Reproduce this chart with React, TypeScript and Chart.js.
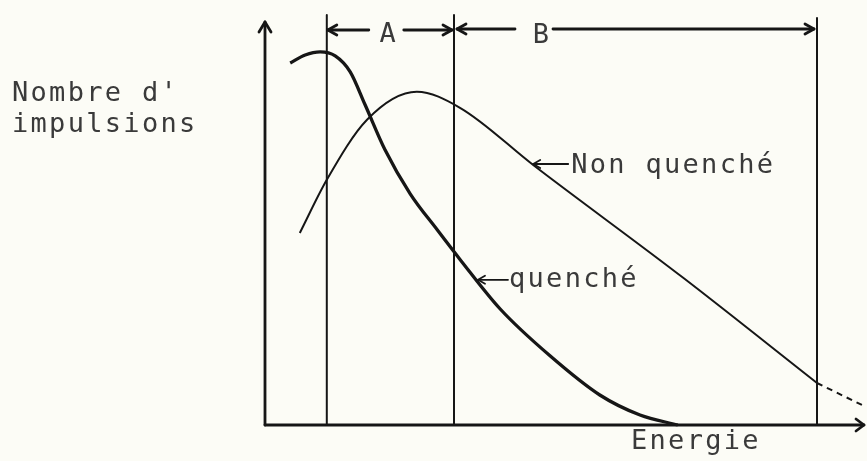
import React, { useEffect, useRef } from "react";
import { Chart, registerables } from "chart.js";

Chart.register(...registerables);

// Energy (x) and pulse count (y), arbitrary units
const quenchedX = [4.2, 6.7, 9.2, 11.7, 14.2, 16.7, 20, 24.2, 28.7, 32.5, 39.2, 47.5, 55.8, 62.5, 68.8];
const quenchedY = [90.5, 92.5, 93.3, 92.3, 88.3, 80, 68.8, 57.8, 48.8, 41.4, 29, 17.3, 7.5, 2.5, 0];

const nonQuenchedX = [5.8, 10.3, 17, 25.3, 32.5, 44.7, 69.7, 92];
const nonQuenchedY = [48, 61.3, 76.3, 83.3, 79.3, 65, 36.8, 10.5];

const extrapX = [92, 99.5];
const extrapY = [10.5, 5];

// Counting windows: A = [b0, b1], B = [b1, b2]
const windowBounds = [10.3, 31.5, 92];
const windowLabels = ["A", "B"];

const yTitle = ["Nombre d'", "impulsions"];
const xTitle = "Energie";
const curveNames = ["Non quenché", "quenché"];
// points on the curves the labels point to
const pointerX = [44.7, 35.5];
const pointerY = [65.5, 36.3];

const INK = "#161616";
const TEXT = "#3a3a3a";
const FONT = "27px 'DejaVu Sans Mono'";

function arrowHead(ctx: CanvasRenderingContext2D, x: number, y: number, dir: number, len = 9, half = 5) {
  ctx.beginPath();
  ctx.moveTo(x - dir * len, y - half);
  ctx.lineTo(x, y);
  ctx.lineTo(x - dir * len, y + half);
  ctx.stroke();
}

function hLine(ctx: CanvasRenderingContext2D, x1: number, x2: number, y: number) {
  ctx.beginPath();
  ctx.moveTo(x1, y);
  ctx.lineTo(x2, y);
  ctx.stroke();
}

function drawText(ctx: CanvasRenderingContext2D, s: string, x: number, y: number, align: CanvasTextAlign = "left") {
  ctx.save();
  ctx.font = FONT;
  (ctx as any).letterSpacing = "2.3px";
  ctx.fillStyle = TEXT;
  ctx.textAlign = align;
  ctx.textBaseline = "alphabetic";
  ctx.fillText(s, x, y);
  ctx.restore();
}

const decor = {
  id: "decor",
  beforeDraw(chart: any) {
    const ctx = chart.ctx as CanvasRenderingContext2D;
    ctx.save();
    ctx.fillStyle = "#fcfcf6";
    ctx.fillRect(0, 0, chart.width, chart.height);
    ctx.restore();
  },
  afterDatasetsDraw(chart: any) {
    const ctx = chart.ctx as CanvasRenderingContext2D;
    const xs = chart.scales.x;
    const ys = chart.scales.y;
    const area = chart.chartArea;
    const x0 = area.left;
    const y0 = ys.getPixelForValue(0);
    ctx.save();
    ctx.strokeStyle = INK;
    ctx.lineCap = "round";
    ctx.lineJoin = "round";

    // axes
    ctx.lineWidth = 2.8;
    ctx.beginPath();
    ctx.moveTo(x0, y0);
    ctx.lineTo(x0, area.top + 7);
    ctx.stroke();
    ctx.beginPath();
    ctx.moveTo(x0 - 6, area.top + 17);
    ctx.lineTo(x0, area.top + 7);
    ctx.lineTo(x0 + 6, area.top + 17);
    ctx.stroke();
    ctx.beginPath();
    ctx.moveTo(x0, y0);
    ctx.lineTo(area.right - 1, y0);
    ctx.stroke();
    arrowHead(ctx, area.right - 1, y0, 1, 8, 6);

    // window boundaries
    ctx.lineWidth = 2;
    const bx = windowBounds.map((b) => xs.getPixelForValue(b));
    bx.forEach((px, i) => {
      ctx.beginPath();
      ctx.moveTo(px, y0);
      ctx.lineTo(px, area.top + (i === 2 ? 3 : 0));
      ctx.stroke();
    });

    // window arrows
    const ay = area.top + 15;
    ctx.lineWidth = 2.8;
    const aLabelX = bx[0] + 60;
    hLine(ctx, bx[0] + 1, aLabelX - 18, ay);
    arrowHead(ctx, bx[0] + 1, ay, -1);
    hLine(ctx, aLabelX + 17, bx[1] - 2, ay);
    arrowHead(ctx, bx[1] - 2, ay, 1);
    drawText(ctx, windowLabels[0], aLabelX + 2, ay + 12, "center");

    const bLabelX = bx[1] + 86;
    hLine(ctx, bx[1] + 3, bLabelX - 25, ay - 1);
    arrowHead(ctx, bx[1] + 3, ay - 1, -1);
    hLine(ctx, bLabelX + 13, bx[2] - 3, ay - 1);
    arrowHead(ctx, bx[2] - 3, ay - 1, 1);
    drawText(ctx, windowLabels[1], bLabelX + 2, ay + 13, "center");

    // curve labels with pointer arrows
    ctx.lineWidth = 1.8;
    const px0 = xs.getPixelForValue(pointerX[0]);
    const py0 = ys.getPixelForValue(pointerY[0]);
    hLine(ctx, px0, px0 + 35, py0 + 1);
    arrowHead(ctx, px0, py0 + 1, -1, 7, 4);
    drawText(ctx, curveNames[0], px0 + 38, py0 + 10);

    const px1 = xs.getPixelForValue(pointerX[1]);
    const py1 = ys.getPixelForValue(pointerY[1]);
    hLine(ctx, px1, px1 + 30, py1);
    arrowHead(ctx, px1, py1, -1, 7, 4);
    drawText(ctx, curveNames[1], px1 + 31, py1 + 7);

    // axis titles
    drawText(ctx, yTitle[0], 12, 101);
    drawText(ctx, yTitle[1], 12, 132);
    drawText(ctx, xTitle, xs.getPixelForValue(61), y0 + 24);

    ctx.restore();
  },
};

export default function App() {
  const ref = useRef<HTMLCanvasElement | null>(null);
  useEffect(() => {
    if (!ref.current) return;
    const toPts = (xs: number[], ys: number[]) => xs.map((x, i) => ({ x, y: ys[i] }));
    const chart = new Chart(ref.current, {
      type: "line",
      data: {
        datasets: [
          {
            label: "quenché",
            data: toPts(quenchedX, quenchedY),
            borderColor: INK,
            borderWidth: 3.3,
            pointRadius: 0,
            cubicInterpolationMode: "monotone",
            clip: false as any,
            fill: false,
          },
          {
            label: "Non quenché",
            data: toPts(nonQuenchedX, nonQuenchedY),
            borderColor: INK,
            borderWidth: 2,
            pointRadius: 0,
            cubicInterpolationMode: "monotone",
            clip: false as any,
            fill: false,
          },
          {
            label: "extrapolation",
            data: toPts(extrapX, extrapY),
            borderColor: INK,
            borderWidth: 2,
            borderDash: [6, 5],
            pointRadius: 0,
            clip: false as any,
            fill: false,
          },
        ],
      },
      options: {
        responsive: false,
        animation: false,
        devicePixelRatio: 1,
        layout: { padding: { left: 265, right: 2, top: 15, bottom: 36 } },
        scales: {
          x: { type: "linear", min: 0, max: 100, display: false },
          y: { type: "linear", min: 0, max: 102.5, display: false },
        },
        plugins: { legend: { display: false }, tooltip: { enabled: false } },
        events: [],
      },
      plugins: [decor],
    });
    return () => chart.destroy();
  }, []);
  return (
    <div style={{ position: "fixed", left: 0, top: 0, width: 867, height: 461 }}>
      <canvas ref={ref} width={867} height={461} style={{ display: "block" }} />
    </div>
  );
}
